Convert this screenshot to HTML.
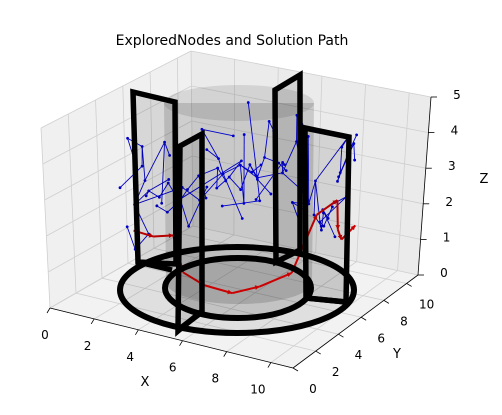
<!DOCTYPE html>
<html><head><meta charset="utf-8"><style>
html,body{margin:0;padding:0;background:#fff;}
svg{display:block;font-family:"DejaVu Sans","Liberation Sans",sans-serif;}
</style></head><body>
<svg id="chart" width="502" height="415" viewBox="0 0 502 415" xmlns="http://www.w3.org/2000/svg">
<text x="232" y="45" font-size="14" text-anchor="middle" fill="#000">ExploredNodes and Solution Path</text>
<g id="panes"></g>
<g id="grid"></g>
<g id="cyl">
  <path d="M164,103 L166,282 A73,22 0 0 0 312,282 L314,103 Z" fill="rgba(0,0,0,0.14)"/>
  <ellipse cx="239" cy="103" rx="75" ry="18" fill="rgba(0,0,0,0.1)"/>
  <ellipse cx="237" cy="290" rx="117" ry="43" fill="rgba(0,0,0,0.08)"/>
  <ellipse cx="238" cy="288" rx="73" ry="30" fill="rgba(0,0,0,0.12)"/>
</g>
<g id="explored"></g>
<g id="path"></g>
<g id="walls" fill="rgba(0,0,0,0.1)" stroke="#000" stroke-width="5.5" stroke-linejoin="miter">
  <polygon points="133,92 175,102 176,264 138,262"/>
  <polygon points="180,146 202,134 202,311 178,331"/>
  <polygon points="275,90 300,75 300,250 276,262"/>
  <polygon points="305,128 349,137 346,302 306,298"/>
  <ellipse cx="237" cy="290" rx="117" ry="43" fill="none" stroke-width="6"/>
  <ellipse cx="238" cy="288" rx="73" ry="30" fill="none" stroke-width="6"/>
  <line x1="138" y1="262" x2="172" y2="270"/>
  <line x1="178" y1="330" x2="202" y2="312"/>
  <line x1="306" y1="298" x2="346" y2="302"/>
</g>
<g id="axes"></g>
</svg>
<script>
// box corner pixels (geometry) for trilinear projection
var C000=[50,308],C100=[293,368],C110=[418,275],C010=[193,226];
var C001=[41,128],C101=[298,185],C111=[431,97],C011=[191,51];
function lerp(a,b,t){return [a[0]+(b[0]-a[0])*t,a[1]+(b[1]-a[1])*t];}
function P(x,y,z){var u=x/11,v=y/11,w=z/5;
  var b=lerp(lerp(C000,C100,u),lerp(C010,C110,u),v);
  var t=lerp(lerp(C001,C101,u),lerp(C011,C111,u),v);
  return lerp(b,t,w);}
var NS="http://www.w3.org/2000/svg";
function mk(tag,attrs,parent){var e=document.createElementNS(NS,tag);for(var k in attrs)e.setAttribute(k,attrs[k]);parent.appendChild(e);return e;}

var xTicks=[0,2,4,6,8,10];
var yTicks=[0,2,4,6,8,10];
var zTicks=[0,1,2,3,4,5];

// explored nodes (data coords) and parent index
var nodeX=[1,1.2,0.8,1.5,1.1,2,2.5,3,2.2,1.7,3.5,4,4.5,3.8,5,5.5,6,4.2,3.2,2.8,6.5,7,7.5,8,7.6,8.2,7.8,7.8,8.2,7.5,7.9,6.8,5.8,4.8,3.6,2.4,1.4,0.9,7.2,6.2,5.2,4.6,7.4,8.0,3.4,2.6,5.6,6.6,
 1.3,1.6,1.9,2.1,0.7,0.6,1.0,2.3,2.7,3.1,3.3,4.1,4.4,5.1,5.4,6.1,6.4,7.1,7.4,7.3,7.5,7.8,8.0,8.2,1.8,2.9,3.9,4.9,5.9,7.7,7.6,0.9,1.5,2.6,
 3.0,3.4,3.7,4.0,4.3,4.6,2.8,3.2,3.9,4.5,5.0,1.9,2.2,1.3,1.6];
var nodeY=[5,5.5,6,5.2,4.8,7,7.5,8.5,6.5,6.2,9,9.5,9.2,8.8,9.8,10,9.6,8,7.8,7.2,9.4,9,8.6,9.8,10,9.5,8.2,9.6,9.9,8.8,9.2,7.5,8.4,9,9.4,6.8,6.4,5.8,8,9.2,9.6,8.4,10.2,10.4,8.6,7.6,9.8,9,
 5.6,5.9,6.1,6.6,5.1,4.6,4.4,6.9,7.1,7.9,8.2,8.9,9.1,9.3,9.4,9.5,9.1,8.8,8.9,9.3,9.6,9.4,9.8,10.1,6.4,7.4,8.6,9.2,9.7,8.5,9.1,5.3,6.8,7.9,
 8.0,8.3,8.7,8.9,9.0,8.7,7.5,8.1,8.4,8.6,8.9,6.0,6.3,5.4,5.7];
var nodeZ=[2,2.6,3.4,1.2,0.8,2.2,1.8,2.4,2,3.6,2.6,2.2,2.9,1.6,2.4,3.3,2.1,1.4,3,3.9,1.8,2.6,1.6,3.8,3.4,2.2,1.5,2.8,3.6,1.9,1.1,2.3,3.1,4,4.3,1.2,1.8,2.9,2,1.3,2.7,1.9,2.5,3,3.5,2.8,4.1,3.8,
 2.3,2.1,2.5,1.9,3.8,2.5,1.5,2.2,2.6,2.7,2.3,2.5,2.7,2.8,2.6,2.4,2.2,1.7,1.4,1.3,1.8,2.6,3.3,3.8,3.2,3.3,3.6,3.7,3.9,1.9,1.6,3.1,2.4,2.1,
 2.1,2.4,2.0,2.7,2.3,1.8,1.9,1.6,2.9,2.5,2.0,1.7,2.0,2.2,1.9];
var nodeParent=[-1,0,1,0,3,0,5,6,5,1,7,10,11,10,11,14,14,7,7,18,15,20,21,21,23,22,22,24,27,25,29,20,14,12,11,8,9,2,31,31,32,32,28,28,19,19,15,20,
 0,48,49,50,2,37,4,51,55,56,57,10,59,12,61,16,63,21,65,22,67,27,69,70,9,18,13,33,46,26,29,52,48,35,
 57,82,83,84,85,86,56,87,83,85,86,51,90,48,93];

// solution path (data coords)
var pathX=[0.8,1.6,2.4,3.2,4.4,5.6,6.2,6.8,7.0,7.5,7.8,8.1,8.4];
var pathY=[5.2,5.4,5.6,5,4.6,4.8,6,7.6,9.2,10,9.6,9.4,10];
var pathZ=[1.2,1.1,1.2,0.4,0.3,0.2,0.2,0.3,1.6,1.9,1.2,1,1.3];

var panes=document.getElementById('panes');
function poly(pts,fill,name){var e=mk('polygon',{points:pts.map(function(p){return p.join(',');}).join(' '),fill:fill},panes);

}
poly([P(0,0,0),P(11,0,0),P(11,11,0),P(0,11,0)],'#f2f2f2','floor-pane');
poly([P(0,0,0),P(0,11,0),P(0,11,5),P(0,0,5)],'#f0f0f0','left-pane');
poly([P(0,11,0),P(11,11,0),P(11,11,5),P(0,11,5)],'#ebebeb','back-pane');

var grid=document.getElementById('grid');
function gl(a,b,name){var e=mk('line',{x1:a[0],y1:a[1],x2:b[0],y2:b[1],stroke:'#cfcfcf','stroke-width':0.8},grid);

}
xTicks.forEach(function(t){gl(P(t,0,0),P(t,11,0),'grid-x');gl(P(t,11,0),P(t,11,5),'grid-x-back');});
yTicks.forEach(function(t){gl(P(0,t,0),P(11,t,0),'grid-y');gl(P(0,t,0),P(0,t,5),'grid-y-left');});
zTicks.forEach(function(t){gl(P(0,0,t),P(0,11,t),'grid-z-left');gl(P(0,11,t),P(11,11,t),'grid-z-back');});

var ex=document.getElementById('explored');
for(var i=0;i<nodeX.length;i++){
  var a=P(nodeX[i],nodeY[i],nodeZ[i]);
  var d=mk('circle',{cx:a[0],cy:a[1],r:1.4,fill:'#0000cc'},ex);
  
  
  var p=nodeParent[i];
  if(p>=0){var b=P(nodeX[p],nodeY[p],nodeZ[p]);
    var l=mk('line',{x1:b[0],y1:b[1],x2:a[0],y2:a[1],stroke:'#0000cc','stroke-width':0.9},ex);
    
    }
}
var pg=document.getElementById('path');
for(var j=1;j<pathX.length;j++){
  var s=P(pathX[j-1],pathY[j-1],pathZ[j-1]),e2=P(pathX[j],pathY[j],pathZ[j]);
  var ln=mk('line',{x1:s[0],y1:s[1],x2:e2[0],y2:e2[1],stroke:'#cc0000','stroke-width':2},pg);
  
  
  var ang=Math.atan2(e2[1]-s[1],e2[0]-s[0]),h=5;
  var hd=mk('polygon',{points:[e2,[e2[0]-h*Math.cos(ang-0.5),e2[1]-h*Math.sin(ang-0.5)],[e2[0]-h*Math.cos(ang+0.5),e2[1]-h*Math.sin(ang+0.5)]].map(function(q){return q.join(',');}).join(' '),fill:'#cc0000'},pg);
  
  
}

var ax=document.getElementById('axes');
function al(a,b,name){var e=mk('line',{x1:a[0],y1:a[1],x2:b[0],y2:b[1],stroke:'#000','stroke-width':0.8},ax);

}
function tx(x,y,s,name,sz){var e=mk('text',{x:x,y:y,'font-size':sz||12,'text-anchor':'middle',fill:'#000'},ax);e.textContent=s;

}
al(P(0,0,0),P(11,0,0),'x-axis-line');
al(P(11,0,0),P(11,11,0),'y-axis-line');
al(P(11,11,0),P(11,11,5),'z-axis-line');
xTicks.forEach(function(t,k){var a=P(t,0,0);al(a,[a[0]-3,a[1]+5],'x-tick');tx(a[0]-5-1.6*k,a[1]+31,String(t),'x-tick-label');});
yTicks.forEach(function(t){var a=P(11,t,0);al(a,[a[0]+5,a[1]+3],'y-tick');tx(a[0]+20,a[1]+25,String(t),'y-tick-label');});
zTicks.forEach(function(t){var a=P(11,11,t);al(a,[a[0]+6,a[1]],'z-tick');tx(a[0]+26,a[1]+2,String(t),'z-tick-label');});
tx(145,386,'X','x-axis-title',13);
tx(397,358,'Y','y-axis-title',13);
tx(484,183,'Z','z-axis-title',13);
</script>
</body></html>
